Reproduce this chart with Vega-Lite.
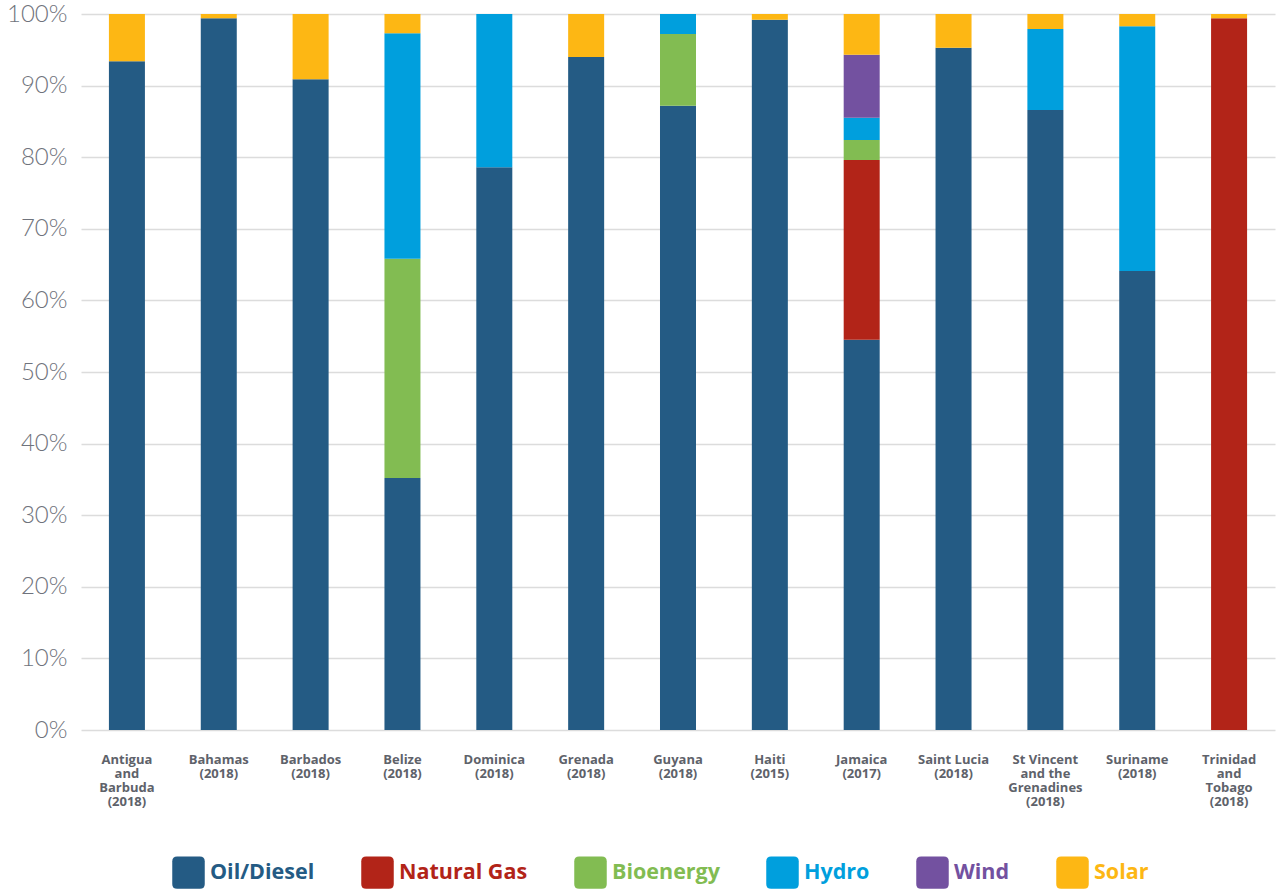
{
  "$schema": "https://vega.github.io/schema/vega-lite/v6.json",
  "width": 1194,
  "height": 716,
  "autosize": {"type": "none"},
  "padding": {"left": 81, "top": 14, "right": 2, "bottom": 160},
  "background": "white",
  "config": {
    "view": {"stroke": null},
    "font": "Lato"
  },
  "data": {
    "values": [
      {"country": "Antigua|and|Barbuda|(2018)", "source": "Oil/Diesel", "share": 93.4},
      {"country": "Antigua|and|Barbuda|(2018)", "source": "Solar", "share": 6.6},
      {"country": "Bahamas|(2018)", "source": "Oil/Diesel", "share": 99.4},
      {"country": "Bahamas|(2018)", "source": "Solar", "share": 0.6},
      {"country": "Barbados|(2018)", "source": "Oil/Diesel", "share": 90.9},
      {"country": "Barbados|(2018)", "source": "Solar", "share": 9.1},
      {"country": "Belize|(2018)", "source": "Oil/Diesel", "share": 35.2},
      {"country": "Belize|(2018)", "source": "Bioenergy", "share": 30.6},
      {"country": "Belize|(2018)", "source": "Hydro", "share": 31.5},
      {"country": "Belize|(2018)", "source": "Solar", "share": 2.7},
      {"country": "Dominica|(2018)", "source": "Oil/Diesel", "share": 78.6},
      {"country": "Dominica|(2018)", "source": "Hydro", "share": 21.4},
      {"country": "Grenada|(2018)", "source": "Oil/Diesel", "share": 94.0},
      {"country": "Grenada|(2018)", "source": "Solar", "share": 6.0},
      {"country": "Guyana|(2018)", "source": "Oil/Diesel", "share": 87.2},
      {"country": "Guyana|(2018)", "source": "Bioenergy", "share": 10.0},
      {"country": "Guyana|(2018)", "source": "Hydro", "share": 2.8},
      {"country": "Haiti|(2015)", "source": "Oil/Diesel", "share": 99.2},
      {"country": "Haiti|(2015)", "source": "Solar", "share": 0.8},
      {"country": "Jamaica|(2017)", "source": "Oil/Diesel", "share": 54.5},
      {"country": "Jamaica|(2017)", "source": "Natural Gas", "share": 25.1},
      {"country": "Jamaica|(2017)", "source": "Bioenergy", "share": 2.8},
      {"country": "Jamaica|(2017)", "source": "Hydro", "share": 3.1},
      {"country": "Jamaica|(2017)", "source": "Wind", "share": 8.8},
      {"country": "Jamaica|(2017)", "source": "Solar", "share": 5.7},
      {"country": "Saint Lucia|(2018)", "source": "Oil/Diesel", "share": 95.3},
      {"country": "Saint Lucia|(2018)", "source": "Solar", "share": 4.7},
      {"country": "St Vincent|and the|Grenadines|(2018)", "source": "Oil/Diesel", "share": 86.6},
      {"country": "St Vincent|and the|Grenadines|(2018)", "source": "Hydro", "share": 11.3},
      {"country": "St Vincent|and the|Grenadines|(2018)", "source": "Solar", "share": 2.1},
      {"country": "Suriname|(2018)", "source": "Oil/Diesel", "share": 64.1},
      {"country": "Suriname|(2018)", "source": "Hydro", "share": 34.2},
      {"country": "Suriname|(2018)", "source": "Solar", "share": 1.7},
      {"country": "Trinidad|and|Tobago|(2018)", "source": "Natural Gas", "share": 99.4},
      {"country": "Trinidad|and|Tobago|(2018)", "source": "Solar", "share": 0.6}
    ]
  },
  "transform": [
    {"calculate": "indexof(['Oil/Diesel','Natural Gas','Bioenergy','Hydro','Wind','Solar'], datum.source)", "as": "stackOrder"}
  ],
  "mark": {"type": "bar"},
  "encoding": {
    "x": {
      "field": "country",
      "type": "nominal",
      "sort": null,
      "scale": {"paddingInner": 0.608, "paddingOuter": 0.304},
      "axis": {
        "title": null,
        "labelAngle": 0,
        "labelExpr": "split(datum.label, '|')",
        "labelFont": "Open Sans",
        "labelFontWeight": "bold",
        "labelFontSize": 13,
        "labelLineHeight": 14,
        "labelColor": "#5e626a",
        "labelBaseline": "top",
        "labelPadding": 23,
        "labelLimit": 200,
        "ticks": false,
        "domain": false,
        "grid": false
      }
    },
    "y": {
      "field": "share",
      "type": "quantitative",
      "stack": "normalize",
      "scale": {"domain": [0, 1], "nice": false},
      "axis": {
        "title": null,
        "values": [0, 0.1, 0.2, 0.3, 0.4, 0.5, 0.6, 0.7, 0.8, 0.9, 1],
        "format": ".0%",
        "labelFont": "Lato",
        "labelFontSize": 24,
        "labelFontWeight": 300,
        "labelColor": "#6f737c",
        "labelPadding": 14,
        "ticks": false,
        "domain": false,
        "grid": true,
        "gridColor": "#dcdcdc",
        "gridWidth": 1.5
      }
    },
    "color": {
      "field": "source",
      "type": "nominal",
      "scale": {
        "domain": ["Oil/Diesel", "Natural Gas", "Bioenergy", "Hydro", "Wind", "Solar"],
        "range": ["#245b84", "#b22418", "#82bc52", "#009fdd", "#7351a0", "#fdb714"]
      },
      "legend": {
        "title": null,
        "orient": "none",
        "direction": "horizontal",
        "legendX": 91,
        "legendY": 842,
        "padding": 0,
        "symbolType": "M -0.7,-1 L 0.7,-1 Q 1,-1 1,-0.7 L 1,0.7 Q 1,1 0.7,1 L -0.7,1 Q -1,1 -1,0.7 L -1,-0.7 Q -1,-1 -0.7,-1 Z",
        "symbolSize": 1056,
        "symbolStrokeWidth": 0,
        "symbolOpacity": 1,
        "labelFont": "Open Sans",
        "labelFontSize": 21.5,
        "labelFontWeight": "bold",
        "labelOffset": 5,
        "columnPadding": 46,
        "labelLimit": 300,
        "encode": {
          "labels": {"update": {"fill": {"scale": "color", "field": "value"}}}
        }
      }
    },
    "order": {"field": "stackOrder", "type": "quantitative", "sort": "ascending"}
  }
}
